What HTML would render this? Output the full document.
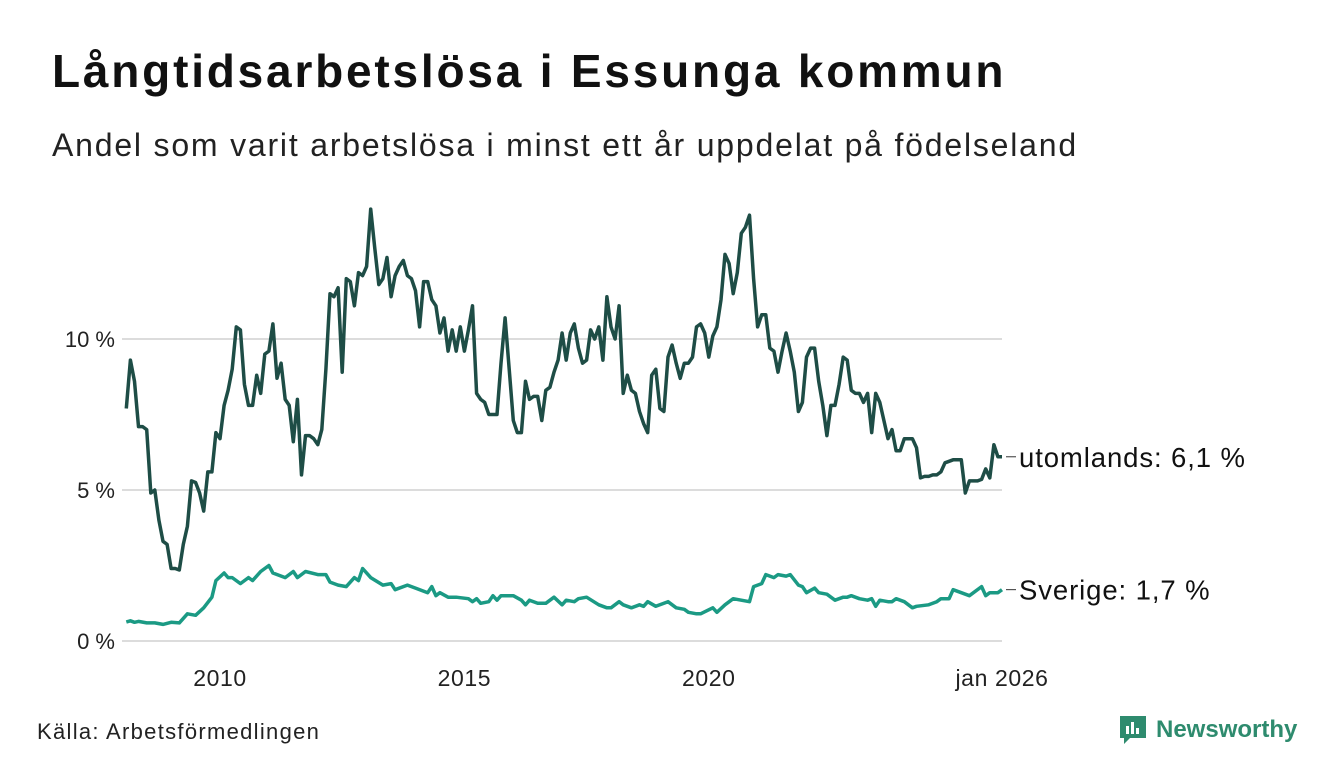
<!DOCTYPE html>
<html><head><meta charset="utf-8">
<style>
html,body{margin:0;padding:0;background:#fff;}
body{width:1340px;height:780px;overflow:hidden;position:relative;font-family:"Liberation Sans",sans-serif;color:#111;}
#title{position:absolute;left:52px;top:44px;font-size:46px;font-weight:bold;letter-spacing:2.8px;margin:0;white-space:nowrap;}
#subtitle{position:absolute;left:52px;top:127px;font-size:32px;letter-spacing:1.8px;margin:0;color:#222;white-space:nowrap;}
#source{position:absolute;left:37px;top:719px;font-size:22px;letter-spacing:1.3px;color:#222;}
#logo{position:absolute;left:1118px;top:714px;display:flex;align-items:center;}
#logo span{font-size:24px;font-weight:bold;color:#2e8b6e;margin-left:8px;}
svg text{font-family:"Liberation Sans",sans-serif;}
</style></head>
<body>
<h1 id="title">Långtidsarbetslösa i Essunga kommun</h1>
<p id="subtitle">Andel som varit arbetslösa i minst ett år uppdelat på födelseland</p>
<svg id="chart" width="1340" height="780" style="position:absolute;left:0;top:0"></svg>
<div id="source">Källa: Arbetsförmedlingen</div>
<div id="logo">
<svg width="30" height="32" viewBox="0 0 30 32"><path d="M2 2h26v22H12l-6 6v-6H2z" fill="#2e8b6e"/><rect x="8" y="12" width="3" height="8" fill="#fff"/><rect x="13" y="8" width="3" height="12" fill="#fff"/><rect x="18" y="14" width="3" height="6" fill="#fff"/></svg>
<span>Newsworthy</span></div>
<script>
const yTicks = [0, 5, 10];
const yTickLabels = ["0 %", "5 %", "10 %"];
const xTickYears = [2010, 2015, 2020, 2026];
const xTickLabels = ["2010", "2015", "2020", "jan 2026"];
const lastMonth = 2026; // Jan 2026 = last index
const utomlands = [7.7,9.3,8.6,7.1,7.1,7.0,4.9,5.0,4.0,3.3,
3.2,2.4,2.4,2.35,3.2,3.8,5.3,5.25,4.9,4.3,
5.6,5.6,6.9,6.7,7.8,8.3,9.0,10.4,10.3,8.5,
7.8,7.8,8.8,8.2,9.5,9.6,10.5,8.7,9.2,8.0,
7.8,6.6,8.0,5.5,6.8,6.8,6.7,6.5,7.0,9.0,
11.5,11.4,11.7,8.9,12.0,11.9,11.1,12.2,12.1,12.4,
14.3,13.0,11.8,12.0,12.7,11.4,12.1,12.4,12.6,12.1,
12.0,11.6,10.4,11.9,11.9,11.3,11.1,10.2,10.7,9.6,
10.3,9.6,10.4,9.6,10.3,11.1,8.2,8.0,7.9,7.5,
7.5,7.5,9.2,10.7,9.0,7.3,6.9,6.9,8.6,8.0,
8.1,8.1,7.3,8.3,8.4,8.9,9.3,10.2,9.3,10.2,
10.5,9.7,9.2,9.3,10.3,10.0,10.4,9.3,11.4,10.4,
10.0,11.1,8.2,8.8,8.3,8.2,7.6,7.2,6.9,8.8,
9.0,7.7,7.6,9.4,9.8,9.2,8.7,9.2,9.2,9.4,
10.4,10.5,10.2,9.4,10.1,10.4,11.3,12.8,12.5,11.5,
12.2,13.5,13.7,14.1,12.0,10.4,10.8,10.8,9.7,9.6,
8.9,9.6,10.2,9.6,8.9,7.6,7.9,9.4,9.7,9.7,
8.6,7.8,6.8,7.8,7.8,8.5,9.4,9.3,8.3,8.2,
8.2,7.9,8.2,6.9,8.2,7.9,7.3,6.7,7.0,6.3,
6.3,6.7,6.7,6.7,6.4,5.4,5.45,5.45,5.5,5.5,
5.6,5.9,5.95,6.0,6.0,6.0,4.9,5.3,5.3,5.3,
5.35,5.7,5.4,6.5,6.1,6.1];
const sverigeMonths = [0,1,2,3,5,7,9,11,13,15,17,19,21,22,24,25,26,28,30,31,33,35,36,39,41,42,44,47,49,50,52,54,56,57,58,60,63,65,66,69,71,74,75,76,77,79,81,84,85,86,87,89,90,91,92,95,97,98,99,101,103,105,107,108,110,111,113,116,118,119,121,122,124,126,127,128,130,133,135,137,138,140,141,144,145,147,149,151,153,154,156,157,159,160,162,163,165,166,167,169,170,172,174,176,177,178,180,182,183,184,185,187,188,189,191,193,194,197,199,200,202,203,205,207,210,211,212,214,215];
const sverigeValues = [0.63,0.67,0.62,0.65,0.6,0.6,0.55,0.62,0.6,0.9,0.85,1.1,1.45,2.0,2.25,2.1,2.1,1.9,2.1,2.0,2.3,2.5,2.25,2.1,2.3,2.1,2.3,2.2,2.2,1.95,1.85,1.8,2.1,2.0,2.4,2.1,1.85,1.9,1.7,1.85,1.75,1.6,1.8,1.5,1.6,1.45,1.45,1.4,1.3,1.4,1.25,1.3,1.5,1.35,1.5,1.5,1.35,1.2,1.35,1.25,1.25,1.45,1.2,1.35,1.3,1.4,1.45,1.2,1.1,1.1,1.3,1.2,1.1,1.2,1.15,1.3,1.15,1.3,1.1,1.05,0.95,0.9,0.9,1.1,0.95,1.2,1.4,1.35,1.3,1.8,1.9,2.2,2.1,2.2,2.15,2.2,1.85,1.8,1.6,1.75,1.6,1.55,1.35,1.45,1.45,1.5,1.4,1.35,1.4,1.15,1.35,1.3,1.3,1.4,1.3,1.1,1.15,1.2,1.3,1.4,1.4,1.7,1.6,1.5,1.8,1.5,1.6,1.6,1.7];
const seriesLabels = ["utomlands: 6,1 %", "Sverige: 1,7 %"];

const NS = "http://www.w3.org/2000/svg";
const svg = document.getElementById('chart');
const X0 = 122, X1 = 1002, Y0 = 641, PXPCT = 30.2;
const nMonths = utomlands.length;
function xYear(yr){ return 220 + (yr - 2010) * (X1 - 220) / (lastMonth - 2010); }
function xIdx(i){ return xYear(lastMonth - (nMonths - 1 - i) / 12); }
function y(v){ return Y0 - v * PXPCT; }
function el(tag, attrs){ const e = document.createElementNS(NS, tag); for (const k in attrs) e.setAttribute(k, attrs[k]); svg.appendChild(e); return e; }

yTicks.forEach((t, k) => {
  const g = el('line', {x1: X0, x2: X1, y1: y(t), y2: y(t), stroke: '#dcdcdc', 'stroke-width': 2});
  
  
  const tx = el('text', {x: 115, y: y(t) + 8, 'text-anchor': 'end', 'font-size': 22, fill: '#222'});
  tx.textContent = yTickLabels[k];
  
  
});
xTickYears.forEach((yr, k) => {
  const tx = el('text', {x: xYear(yr), y: 686, 'text-anchor': 'middle', 'font-size': 23, 'letter-spacing': 0.6, fill: '#222'});
  tx.textContent = xTickLabels[k];
  
  
});

const pU = utomlands.map((v, i) => xIdx(i).toFixed(1) + ',' + y(v).toFixed(1)).join(' ');
const lu = el('polyline', {points: pU, fill: 'none', stroke: '#1e4d46', 'stroke-width': 3.5, 'stroke-linejoin': 'round'});


const pS = sverigeValues.map((v, k) => xIdx(sverigeMonths[k]).toFixed(1) + ',' + y(v).toFixed(1)).join(' ');
const ls = el('polyline', {points: pS, fill: 'none', stroke: '#1b9a84', 'stroke-width': 3.5, 'stroke-linejoin': 'round'});



const lastVals = [utomlands[nMonths - 1], sverigeValues[sverigeValues.length - 1]];
lastVals.forEach((v, k) => {
  const yy = y(v);
  const c = el('line', {x1: X1 + 4, x2: X1 + 14, y1: yy, y2: yy, stroke: '#333', 'stroke-width': 1});
  
  
  const t = el('text', {x: X1 + 17, y: yy + 10, 'font-size': 27.5, 'letter-spacing': 0.9, fill: '#111'});
  t.textContent = seriesLabels[k];
  
  
});
</script>
</body></html>
